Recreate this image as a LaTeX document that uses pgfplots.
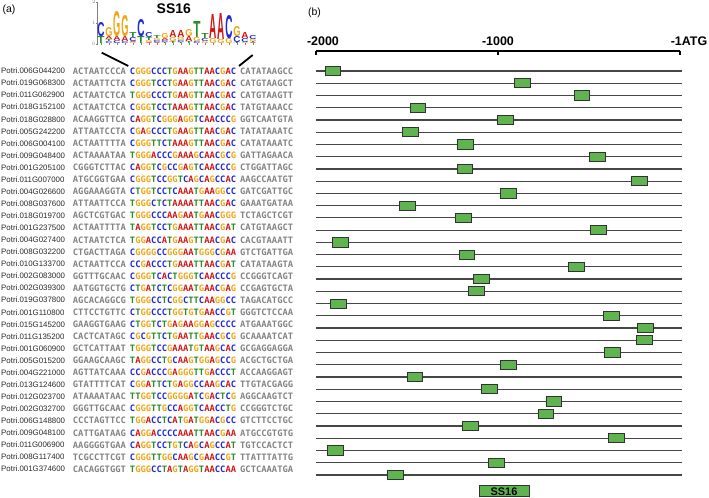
\documentclass[border=0pt]{standalone}
\usepackage{pgfplots}
\pgfplotsset{compat=1.18}
\usepackage{graphicx}
\usepackage{fontspec}
\setmainfont{Liberation Sans}
\newfontfamily\seqfont{DejaVu Sans Mono}

\definecolor{nA}{RGB}{210,20,20}
\definecolor{nC}{RGB}{30,40,220}
\definecolor{nG}{RGB}{240,165,20}
\definecolor{nT}{RGB}{40,140,40}
\definecolor{flank}{RGB}{130,130,130}
\definecolor{genec}{RGB}{40,40,40}
\definecolor{boxg}{RGB}{95,180,80}
\definecolor{boxedge}{RGB}{50,50,50}
\definecolor{rowline}{RGB}{70,70,70}

\def\ntc#1{\if A#1\textcolor{nA}{A}\fi\if C#1\textcolor{nC}{C}\fi\if G#1\textcolor{nG}{G}\fi\if T#1\textcolor{nT}{T}\fi}
\def\seqcol#1{\seqcolA#1\relax}
\def\seqcolA#1{\ifx\relax#1\else\ntc{#1}\expandafter\seqcolA\fi}
\newcommand\seqtxt[3]{{\seqfont\bfseries\fontsize{8.85}{10}\selectfont\textcolor{flank}{#1}\kern4bp\seqcol{#2}\kern4bp\textcolor{flank}{#3}}}
\newcommand\seqrow[5]{%
  \node[anchor=west, inner sep=0pt, font=\fontsize{7.9}{9}\selectfont, text=genec] at (axis cs:1,-#1) {#2};
  \node[anchor=west, inner sep=0pt] at (axis cs:72.7,-#1) {\seqtxt{#3}{#4}{#5}};}
\newcommand\logoL[2]{\resizebox{7.2bp}{#2bp}{\bfseries\ntc{#1}}}

\pgfdeclareplotmark{gbox}{\pgfpathrectangle{\pgfqpoint{-7.85bp}{-4.6bp}}{\pgfqpoint{15.7bp}{9.2bp}}\pgfusepathqfillstroke}

\begin{document}
\begin{tikzpicture}
\useasboundingbox (0,0) rectangle (709bp,498bp);
\node[font=\fontsize{10.5}{12}\selectfont] at (9bp,488bp) {(a)};
\node[font=\fontsize{10.5}{12}\selectfont] at (314.5bp,485bp) {(b)};

% ---------------- sequence logo ----------------
\begin{axis}[at={(97bp,454bp)}, anchor=south west, scale only axis,
  width=160bp, height=42bp, xmin=0.5, xmax=20.5, ymin=0, ymax=2, clip=false,
  axis y line=left, axis x line=bottom,
  x axis line style={draw=none},
  y axis line style={gray, line width=0.5bp, -},
  ytick={0,1,2}, yticklabel style={font=\fontsize{3}{3}\selectfont, text=gray, inner sep=0.5bp},
  xtick={1,...,20}, xticklabels={},
  major tick length=1.5bp, tick style={gray, line width=0.4bp}]
\addplot[only marks, mark=none,
  nodes near coords={\logoL{\myL}{\myH}},
  nodes near coords align={anchor=south},
  every node near coord/.append style={inner sep=0pt},
  visualization depends on={value \thisrow{L} \as \myL},
  visualization depends on={value \thisrow{h} \as \myH}]
  table[x=x, y expr=\thisrow{y}/21] {
x L y h
1 T 0 7
1 C 7 14
2 C 0 2
2 T 2 2
2 A 4 3
2 G 7 9
3 C 0 3
3 A 3 4
3 G 7 25
4 C 0 2
4 A 2 5
4 G 7 21
5 G 0 1
5 A 1 1
5 C 2 4
5 T 6 5
6 T 0 7
6 C 7 17
7 A 0 1
7 G 1 2
7 T 3 3
7 C 6 5
8 A 0 1
8 C 1 2
8 G 3 2
8 T 5 3
9 T 0 1
9 C 1 2
9 A 3 2
9 G 5 5
10 T 0 2
10 G 2 4
10 A 6 7
11 T 0 1
11 C 1 2
11 G 3 3
11 A 6 7
12 T 0 2
12 A 2 5
12 G 7 7
13 C 0 2
13 G 2 4
13 T 6 16
14 G 0 2
14 C 2 3
14 T 5 5
15 G 0 5
15 A 5 24
16 G 0 4
16 A 4 26
17 G 0 5
17 C 5 23
18 T 0 1
18 C 1 6
18 G 7 10
19 G 0 1
19 C 1 4
19 A 5 6
20 A 0 1
20 T 1 1
20 G 2 2
20 C 4 4
};
\addplot[black, line width=1.8bp] coordinates {(1.09,-0.414) (4.41,-1.048)};
\addplot[black, line width=1.8bp] coordinates {(19.96,-0.524) (18.25,-1.048)};
\node[font=\fontsize{14}{16}\selectfont\bfseries] at (axis cs:10.1,1.67) {SS16};
\end{axis}

% ---------------- panel (a) text ----------------
\begin{axis}[at={(0bp,439.06bp)}, anchor=north west, scale only axis,
  width=300bp, height=422.1bp, xmin=0, xmax=300, ymin=-35, ymax=0,
  hide axis, clip=false]
\seqrow{1}{Potri.006G044200}{ACTAATCCCA}{CGGGCCCTGAAGTTAACGAC}{CATATAAGCC}
\seqrow{2}{Potri.019G068300}{ACTAATTCTA}{CGGGTCCTGAAGTTAACGAC}{CATGTAAGCT}
\seqrow{3}{Potri.011G062900}{ACTAATCTCA}{TGGGCCCTGAAGTTAACGAC}{CATGTAAGTT}
\seqrow{4}{Potri.018G152100}{ACTAATCTCA}{CGGGTCCTAAAGTTAACGAC}{TATGTAAACC}
\seqrow{5}{Potri.018G028800}{ACAAGGTTCA}{CAGGTCGGGAGGTCAACCCG}{GGTCAATGTA}
\seqrow{6}{Potri.005G242200}{ATTAATCCTA}{CGAGCCCTGAAGTTAACGAC}{TATATAAATC}
\seqrow{7}{Potri.006G004100}{ACTAATTTTA}{CGGGTTCTAAAGTTAACGAC}{CATATAAATC}
\seqrow{8}{Potri.009G048400}{ACTAAAATAA}{TGGGACCCGAAAGCAACGCG}{GATTAGAACA}
\seqrow{9}{Potri.001G205100}{CGGGTCTTAC}{CAGGTCGCCGAGTCAACCCG}{CTGGATTAGC}
\seqrow{10}{Potri.011G007000}{ATGCGGTGAA}{CGGGTCCGGTCAGCAGCCAC}{AAGCCAATGT}
\seqrow{11}{Potri.004G026600}{AGGAAAGGTA}{CTGGTCCTCAAATGAAGGCC}{GATCGATTGC}
\seqrow{12}{Potri.008G037600}{ATTAATTCCA}{TGGGCTCTAAAATTAACGAC}{GAAATGATAA}
\seqrow{13}{Potri.018G019700}{AGCTCGTGAC}{TGGGCCCAAGAATGAACGGG}{TCTAGCTCGT}
\seqrow{14}{Potri.001G237500}{ACTAATTTTA}{TAGGTCCTGAAATTAACGAT}{CATGTAAGCT}
\seqrow{15}{Potri.004G027400}{ACTAATCTCA}{TGGACCATGAAGTTAACGAC}{CACGTAAATT}
\seqrow{16}{Potri.008G032200}{CTGACTTAGA}{CGGGGCCGGGAATGGGCGAA}{GTCTGATTGA}
\seqrow{17}{Potri.010G133700}{ACTAATTCCA}{CCGACCCTGAAATTAACGAT}{CATATAAGTA}
\seqrow{18}{Potri.002G083000}{GGTTTGCAAC}{CGGGTCACTGGGTCAACCCG}{CCGGGTCAGT}
\seqrow{19}{Potri.002G039300}{AATGGTGCTG}{CTGATCTCGGAATGAACGAG}{CCGAGTGCTA}
\seqrow{20}{Potri.019G037800}{AGCACAGGCG}{TGGGCCTCGGCTTCAAGGCC}{TAGACATGCC}
\seqrow{21}{Potri.001G110800}{CTTCCTGTTC}{CTGGCCCTGGTGTGAACCGT}{GGGTCTCCAA}
\seqrow{22}{Potri.015G145200}{GAAGGTGAAG}{CTGGTCTGAGAAGGAGCCCC}{ATGAAATGGC}
\seqrow{23}{Potri.011G135200}{CACTCATAGC}{CGCGTTCTGAATTGAACGCG}{GCAAAATCAT}
\seqrow{24}{Potri.001G060900}{GCTCATTAAT}{TGGGTCCGAAATGTAAGCAC}{GCGAGGAGGA}
\seqrow{25}{Potri.005G015200}{GGAAGCAAGC}{TAGGCCTGCAAGTGGAGCCG}{ACGCTGCTGA}
\seqrow{26}{Potri.004G221000}{AGTTATCAAA}{CCGACCCGAGGGTTGACCCT}{ACCAAGGAGT}
\seqrow{27}{Potri.013G124600}{GTATTTTCAT}{CGGATTCTGAGGCCAAGCAC}{TTGTACGAGG}
\seqrow{28}{Potri.012G023700}{ATAAAATAAC}{TTGGTCCGGGGATCGACTCG}{AGGCAAGTCT}
\seqrow{29}{Potri.002G032700}{GGGTTGCAAC}{CGGGTTGCCAGGTCAACCTG}{CCGGGTCTGC}
\seqrow{30}{Potri.006G148800}{CCCTAGTTCC}{TGGACCTCATGATGGACGCC}{GTCTTCCTGC}
\seqrow{31}{Potri.009G048100}{CATTGATAAG}{CAGGACCCCAAATTAACGAA}{ATGCCGTGTG}
\seqrow{32}{Potri.011G006900}{AAGGGGTGAA}{CAGGTCCTGTCAGCAGCCAT}{TGTCCACTCT}
\seqrow{33}{Potri.008G117400}{TCGCCTTCGT}{CGGGTTGGCAAGCGAACCGT}{TTATTTATTG}
\seqrow{34}{Potri.001G374600}{CACAGGTGGT}{TGGGCCTAGTAGGTAACCAA}{GCTCAAATGA}
\end{axis}

% ---------------- panel (b) ----------------
\begin{axis}[at={(316bp,447bp)}, anchor=north west, scale only axis,
  width=364bp, height=436.16bp, xmin=-2000, xmax=0, ymin=-35, ymax=0.634,
  clip=false, axis x line*=top, axis y line=none,
  x axis line style={-, line width=1.3bp, black},
  xtick={-2000,-1000,0},
  xticklabels={{\hspace*{14pt}-2000},{-1000},{\hspace*{18pt}-1ATG}},
  tick align=inside, major tick length=4.5bp,
  xtick style={black, line width=1.3bp},
  xticklabel style={font=\fontsize{12.5}{14}\selectfont\bfseries, text=black, yshift=1.5bp}]
\pgfplotsinvokeforeach{1,...,34}{\addplot[rowline, line width=1.2bp, forget plot] coordinates {(-2000,-#1) (12,-#1)};}
\addplot[only marks, mark=gbox, mark options={fill=boxg, draw=boxedge, line width=0.9bp}]
  table[x=x, y expr=-\thisrow{row}] {
row x
1 -1907
2 -864
3 -538
4 -1440
5 -961
6 -1482
7 -1177
8 -452
9 -1182
10 -221
11 -941
12 -1499
13 -1188
14 -447
15 -1865
16 -1171
17 -570
18 -1091
19 -1118
20 -1875
21 -377
22 -189
23 -195
24 -371
25 -941
26 -1457
27 -1048
28 -693
29 -737
30 -1153
31 -350
32 -1893
33 -1010
34 -1564
};
\node[fill=boxg, draw=boxedge, line width=0.9bp, minimum width=50bp, minimum height=11bp, inner sep=0pt,
  font=\fontsize{11}{12}\selectfont\bfseries] at (axis cs:-967,-35.35) {SS16};
\end{axis}
\end{tikzpicture}
\end{document}
